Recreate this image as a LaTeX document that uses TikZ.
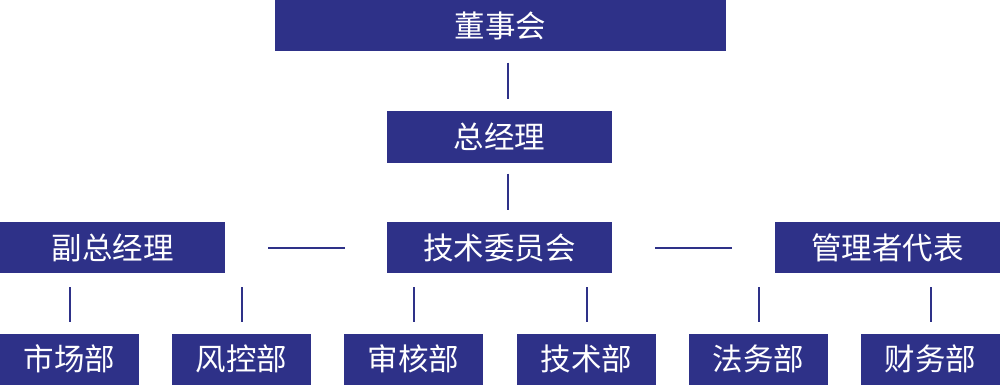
\documentclass[tikz,border=0pt]{standalone}
\usepackage{fontspec}
\setmainfont{Noto Sans CJK SC}
\definecolor{navy}{HTML}{2E3188}
\begin{document}
\begin{tikzpicture}[x=1pt,y=-1pt,
  box/.style={draw=none,fill=navy,text=white,inner sep=0pt,minimum height=51pt,font=\fontsize{30.5}{30.5}\selectfont},
  link/.style={draw=navy,line width=2pt}]
\useasboundingbox (0,0) rectangle (1000,385);
\node[box,minimum width=451pt] (board) at (500.5,26) {董事会};
\node[box,minimum width=225pt] (gm) at (499.5,137) {总经理};
\node[box,minimum width=225pt] (vgm) at (112.5,247.5) {副总经理};
\node[box,minimum width=225pt] (tc) at (499.5,247.5) {技术委员会};
\node[box,minimum width=225pt] (mr) at (887.5,247.5) {管理者代表};
\node[box,minimum width=139pt] (d1) at (69.5,359) {市场部};
\node[box,minimum width=139pt] (d2) at (241.5,359) {风控部};
\node[box,minimum width=139pt] (d3) at (413.5,359) {审核部};
\node[box,minimum width=139pt] (d4) at (586.5,359) {技术部};
\node[box,minimum width=139pt] (d5) at (758.5,359) {法务部};
\node[box,minimum width=139pt] (d6) at (930.5,359) {财务部};
\draw[link,shorten <=11pt,shorten >=12pt] (board.south -| 508,0) -- (gm.north -| 508,0);
\draw[link,shorten <=11pt,shorten >=12pt] (gm.south -| 508,0) -- (tc.north -| 508,0);
\draw[link,shorten <=43pt,shorten >=42pt] (vgm.east) -- (tc.west);
\draw[link,shorten <=43pt,shorten >=43pt] (tc.east) -- (mr.west);
\foreach \p/\c in {vgm/d1,vgm/d2,tc/d3,tc/d4,mr/d5,mr/d6}{
  \draw[link,shorten <=14pt,shorten >=11pt] (\p.south -| \c.north) -- (\c.north);
}
\end{tikzpicture}
\end{document}
